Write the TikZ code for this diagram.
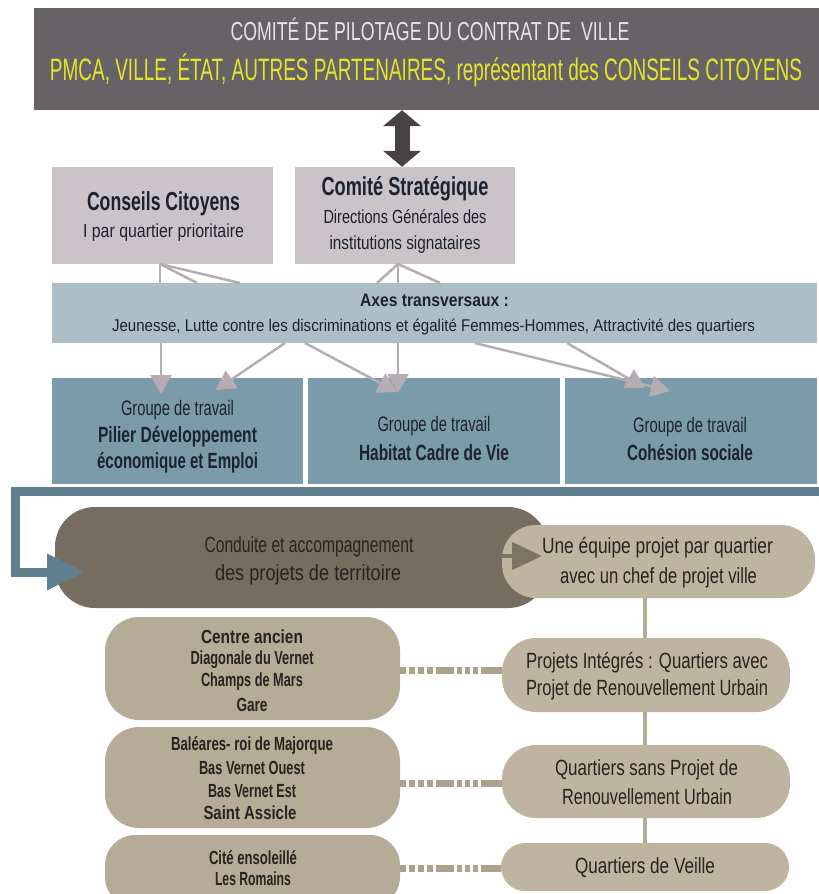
\documentclass[tikz,border=0pt]{standalone}
\usepackage{fontspec}
\setmainfont{Liberation Sans}
\usetikzlibrary{arrows.meta}
\definecolor{topgray}{HTML}{676265}
\definecolor{pilotyellow}{HTML}{E4E42C}
\definecolor{pilotwhite}{HTML}{E6E2E6}
\definecolor{mauvebox}{HTML}{CAC3C7}
\definecolor{axesbox}{HTML}{ADBEC6}
\definecolor{groupbox}{HTML}{7B9BAB}
\definecolor{barblue}{HTML}{61808F}
\definecolor{conduitebox}{HTML}{766D60}
\definecolor{tanright}{HTML}{BFB4A0}
\definecolor{tanleft}{HTML}{B6AB97}
\definecolor{tanline}{HTML}{B5AA96}
\definecolor{linkgray}{HTML}{B5ADB2}
\definecolor{darkarrow}{HTML}{474244}
\definecolor{navytext}{HTML}{1C2230}
\definecolor{darktext}{HTML}{27231F}
\definecolor{dashtan}{HTML}{ADA18D}
\definecolor{stubarrow}{HTML}{7D7367}
\newsavebox{\fitbox}
\newcommand{\fitto}[3]{\sbox{\fitbox}{\fontsize{#2}{#2}\selectfont #3}\scalebox{\fpeval{#1/\wd\fitbox}}[1]{\usebox{\fitbox}}}
\tikzset{
  plainbox/.style={draw=none, inner sep=0pt, align=center},
  roundbox/.style={plainbox, rounded corners=32pt},
  txt/.style={draw=none, inner sep=0pt},
  linkline/.style={linkgray, line width=2.5pt},
  linkarrow/.style={linkgray, line width=2.5pt, -{Triangle[width=21pt,length=19pt]}},
  dashlink/.style={dashtan, line width=7pt, dash pattern=on 6pt off 3pt on 6pt off 3pt on 6pt off 3pt on 6pt off 3pt on 18pt off 3pt on 5pt off 3pt on 5pt off 3pt on 5pt off 3pt on 22pt off 3pt},
  vline/.style={tanline, line width=4pt}
}
\begin{document}
\begin{tikzpicture}[x=1pt,y=-1pt]
\useasboundingbox (0,0) rectangle (819,894);
\clip (0,0) rectangle (819,894);

% top box
\node[plainbox, fill=topgray, minimum width=786pt, minimum height=102pt] (top) at (427,59) {};
\node[txt, text=pilotwhite] (topA) at (430,29) {\fitto{399}{26}{COMITÉ DE PILOTAGE DU CONTRAT DE\ \ VILLE}};
\node[txt, text=pilotyellow] (topB) at (426,70) {\fitto{752}{31}{PMCA, VILLE, ÉTAT, AUTRES PARTENAIRES, représentant des CONSEILS CITOYENS}};

% second row
\node[plainbox, fill=mauvebox, minimum width=221pt, minimum height=97pt] (cc) at (162.5,215.5) {};
\node[txt, text=navytext] (ccA) at (163.5,204) {\fitto{153}{26}{\bfseries Conseils Citoyens}};
\node[txt, text=navytext] (ccB) at (163.5,233) {\fitto{161}{19}{I par quartier prioritaire}};

\node[plainbox, fill=mauvebox, minimum width=220pt, minimum height=97pt] (cs) at (405,215.5) {};
\node[txt, text=navytext] (csA) at (405,189) {\fitto{167}{26}{\bfseries Comité Stratégique}};
\node[txt, text=navytext] (csB) at (405,217) {\fitto{163}{19}{Directions Générales des}};
\node[txt, text=navytext] (csC) at (405,245) {\fitto{151}{19}{institutions signataires}};

% double arrow
\coordinate (ax) at (402,0);
\draw[darkarrow, line width=15pt, {Triangle[width=37pt,length=16pt]}-{Triangle[width=37pt,length=16pt]}] (top.south -| ax) -- (cs.north -| ax);

% axes
\node[plainbox, fill=axesbox, minimum width=765pt, minimum height=60pt] (axes) at (434.5,313) {};
\node[txt, text=navytext] (axA) at (434.5,300) {\fitto{149}{18}{\bfseries Axes transversaux :}};
\node[txt, text=navytext] (axB) at (433.5,327) {\fitto{643}{17}{Jeunesse, Lutte contre les discriminations et égalité Femmes-Hommes, Attractivité des quartiers}};

% links from top boxes to axes
\coordinate (ccfoot) at (160,264);
\coordinate (csfoot) at (398,264);
\coordinate (t1) at (197,283);
\coordinate (t2) at (240,283);
\coordinate (t3) at (377,283);
\coordinate (t4) at (440,283);
\draw[linkline] (ccfoot) -- (ccfoot |- axes.north);
\draw[linkline] (ccfoot) -- (t1);
\draw[linkline] (ccfoot) -- (t2);
\draw[linkline] (csfoot) -- (t3);
\draw[linkline] (csfoot) -- (csfoot |- axes.north);
\draw[linkline] (csfoot) -- (t4);

% group boxes
\node[plainbox, fill=groupbox, minimum width=251pt, minimum height=106pt] (g1) at (177.5,431) {};
\node[txt, text=navytext] (g1A) at (177.5,410) {\fitto{113}{21}{Groupe de travail}};
\node[txt, text=navytext] (g1B) at (177.5,437) {\fitto{159}{22}{\bfseries Pilier Développement}};
\node[txt, text=navytext] (g1C) at (177.5,463) {\fitto{161}{22}{\bfseries économique et Emploi}};

\node[plainbox, fill=groupbox, minimum width=252pt, minimum height=106pt] (g2) at (434,431) {};
\node[txt, text=navytext] (g2A) at (434,426) {\fitto{113}{21}{Groupe de travail}};
\node[txt, text=navytext] (g2B) at (434,453) {\fitto{150}{22}{\bfseries Habitat Cadre de Vie}};

\node[plainbox, fill=groupbox, minimum width=252pt, minimum height=106pt] (g3) at (691,431) {};
\node[txt, text=navytext] (g3A) at (690,427) {\fitto{114}{21}{Groupe de travail}};
\node[txt, text=navytext] (g3B) at (690,453) {\fitto{126}{22}{\bfseries Cohésion sociale}};

% arrows from axes to groups
\coordinate (a1s) at (161,343); \coordinate (a1e) at (161,394);
\coordinate (a2s) at (285,343); \coordinate (a2e) at (216,390);
\coordinate (a3s) at (305,343); \coordinate (a3e) at (397,392);
\coordinate (a4s) at (398,343); \coordinate (a4e) at (398,393);
\coordinate (a5s) at (475,343); \coordinate (a5e) at (670,391);
\coordinate (a6s) at (567,343); \coordinate (a6e) at (645,388);
\draw[linkarrow] (a1s) -- (a1e);
\draw[linkarrow] (a2s) -- (a2e);
\draw[linkarrow] (a3s) -- (a3e);
\draw[linkarrow] (a4s) -- (a4e);
\draw[linkarrow] (a5s) -- (a5e);
\draw[linkarrow] (a6s) -- (a6e);

% conduite
\node[roundbox, fill=conduitebox, minimum width=493pt, minimum height=101pt, rounded corners=40pt] (cond) at (301.5,557.5) {};
\node[txt, text=darktext] (condA) at (309,547) {\fitto{209}{22}{Conduite et accompagnement}};
\node[txt, text=darktext] (condB) at (308,575) {\fitto{186}{22}{des projets de territoire}};

% bar from groups to conduite
\coordinate (barstart) at (819,491);
\coordinate (barturn) at (15,491);
\coordinate (barend) at (85,572);
\draw[barblue, line width=9pt, -{Triangle[width=34pt,length=38pt]}] (barstart) -- (barturn) |- (barend);

% une equipe
\node[roundbox, fill=tanright, minimum width=313pt, minimum height=73pt, rounded corners=34pt] (une) at (658.5,561.5) {};
\node[txt, text=darktext] (uneA) at (657.5,548) {\fitto{231}{22}{Une équipe projet par quartier}};
\node[txt, text=darktext] (uneB) at (658.5,578) {\fitto{197}{22}{avec un chef de projet ville}};
\coordinate (stub) at (502,556);
\coordinate (stubend) at (542,556);
\draw[stubarrow, line width=4pt, -{Triangle[width=27pt,length=30pt]}] (stub) -- (stubend);

% right column
\node[roundbox, fill=tanright, minimum width=288pt, minimum height=74pt, rounded corners=34pt] (pi) at (646,675) {};
\node[roundbox, fill=tanright, minimum width=288pt, minimum height=73pt, rounded corners=34pt] (qsp) at (646,781.5) {};
\node[roundbox, fill=tanright, minimum width=288pt, minimum height=48pt, rounded corners=24pt] (qdv) at (645,867) {};
\coordinate (vx) at (645,0);
\draw[vline] (une.south -| vx) -- (pi.north -| vx);
\draw[vline] (pi.south -| vx) -- (qsp.north -| vx);
\draw[vline] (qsp.south -| vx) -- (qdv.north -| vx);
\node[txt, text=darktext] (piA) at (647,663) {\fitto{242}{22}{Projets Intégrés : Quartiers avec}};
\node[txt, text=darktext] (piB) at (647,690) {\fitto{242}{22}{Projet de Renouvellement Urbain}};
\node[txt, text=darktext] (qspA) at (646.5,770) {\fitto{183}{22}{Quartiers sans Projet de}};
\node[txt, text=darktext] (qspB) at (647,797) {\fitto{170}{22}{Renouvellement Urbain}};
\node[txt, text=darktext] (qdvA) at (645,868) {\fitto{140}{22}{Quartiers de Veille}};

% left column
\node[roundbox, fill=tanleft, minimum width=295pt, minimum height=103pt, rounded corners=34pt] (l1) at (252.5,668.5) {};
\node[txt, text=darktext] (l1A) at (252,637) {\fitto{102}{19}{\bfseries Centre ancien}};
\node[txt, text=darktext] (l1B) at (252,660) {\fitto{123}{19}{\bfseries Diagonale du Vernet}};
\node[txt, text=darktext] (l1C) at (252,682) {\fitto{102}{19}{\bfseries Champs de Mars}};
\node[txt, text=darktext] (l1D) at (252,705) {\fitto{31}{19}{\bfseries Gare}};

\node[roundbox, fill=tanleft, minimum width=295pt, minimum height=101pt, rounded corners=34pt] (l2) at (252.5,777.5) {};
\node[txt, text=darktext] (l2A) at (252,745) {\fitto{162}{19}{\bfseries Baléares- roi de Majorque}};
\node[txt, text=darktext] (l2B) at (252,768) {\fitto{106}{19}{\bfseries Bas Vernet Ouest}};
\node[txt, text=darktext] (l2C) at (252,791) {\fitto{88}{19}{\bfseries Bas Vernet Est}};
\node[txt, text=darktext] (l2D) at (250,813) {\fitto{93}{19}{\bfseries Saint Assicle}};

\node[roundbox, fill=tanleft, minimum width=295pt, minimum height=72pt, rounded corners=30pt] (l3) at (252.5,871) {};
\node[txt, text=darktext] (l3A) at (253,858) {\fitto{88}{19}{\bfseries Cité ensoleillé}};
\node[txt, text=darktext] (l3B) at (253,879) {\fitto{76}{19}{\bfseries Les Romains}};

% dashed links
\coordinate (d1) at (0,670);
\coordinate (d2) at (0,783);
\coordinate (d3) at (0,868);
\draw[dashlink] (l1.east |- d1) -- (pi.west |- d1);
\draw[dashlink] (l2.east |- d2) -- (qsp.west |- d2);
\draw[dashlink] (l3.east |- d3) -- (qdv.west |- d3);
\end{tikzpicture}
\end{document}
